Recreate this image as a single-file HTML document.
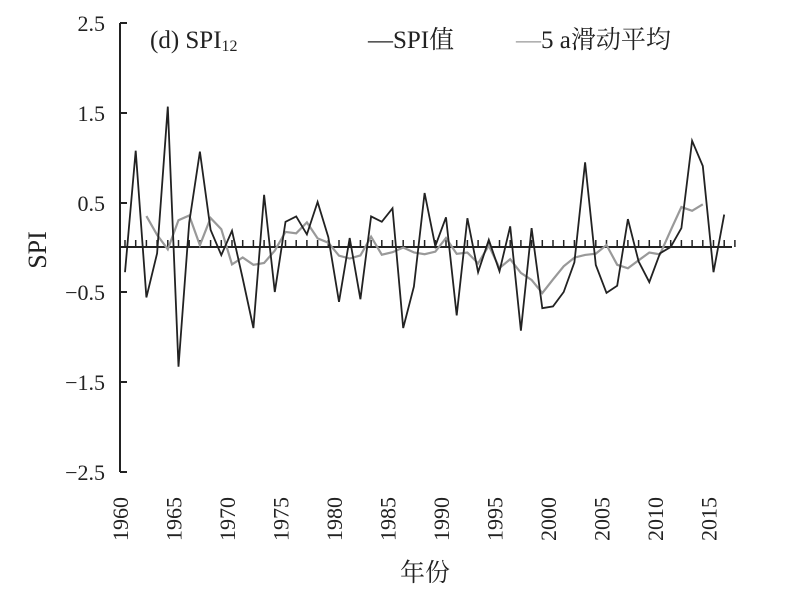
<!DOCTYPE html>
<html><head><meta charset="utf-8"><style>
body{margin:0;background:#fff}
svg text{font-family:"Liberation Serif","Noto Serif CJK SC",serif;fill:#222}
</style></head><body>
<svg width="798" height="600" xmlns="http://www.w3.org/2000/svg" id="s">
<g stroke="#222" stroke-width="2" fill="none">
<line x1="120" y1="23" x2="120" y2="472"/>
<line x1="120" y1="247" x2="732" y2="247"/>
<line x1="120" y1="23" x2="127" y2="23"/>
<line x1="120" y1="113" x2="127" y2="113"/>
<line x1="120" y1="203" x2="127" y2="203"/>
<line x1="120" y1="292" x2="127" y2="292"/>
<line x1="120" y1="382" x2="127" y2="382"/>
<line x1="120" y1="472" x2="127" y2="472"/>
</g>
<g id="ticks" stroke="#222" stroke-width="1.5"></g>
<g font-size="22" text-anchor="end">
<text x="105" y="31">2.5</text>
<text x="105" y="121">1.5</text>
<text x="105" y="211">0.5</text>
<text x="105" y="300">−0.5</text>
<text x="105" y="390">−1.5</text>
<text x="105" y="480">−2.5</text>
</g>
<g id="xl" font-size="22"></g>
<text x="0" y="0" font-size="26" transform="translate(46,250) rotate(-90)" text-anchor="middle">SPI</text>
<text x="425" y="581" font-size="25" text-anchor="middle">年份</text>
<text x="150" y="48" font-size="25">(d) SPI<tspan font-size="16" dy="3">12</tspan></text>
<text x="368" y="48" font-size="25">—SPI值</text>
<text x="516" y="48" font-size="25"><tspan fill="#999">—</tspan>5 a滑动平均</text>
<polyline id="ma" fill="none" stroke="#999" stroke-width="2.2"/>
<polyline id="raw" fill="none" stroke="#222" stroke-width="1.8"/>
</svg>
<script>
var d=[-0.28,1.07,-0.56,-0.07,1.56,-1.33,0.27,1.06,0.19,-0.09,0.18,-0.35,-0.9,0.58,-0.5,0.28,0.34,0.14,0.5,0.11,-0.61,0.1,-0.58,0.34,0.28,0.43,-0.9,-0.44,0.6,0.01,0.33,-0.76,0.32,-0.28,0.08,-0.27,0.23,-0.93,0.21,-0.68,-0.66,-0.5,-0.17,0.94,-0.2,-0.51,-0.43,0.31,-0.16,-0.39,-0.07,0.0,0.21,1.18,0.9,-0.28,0.36];
function X(i){return 125+10.7*i}function Y(v){return 247-90*v}
var r=[],m=[];for(var i=0;i<d.length;i++){r.push(X(i)+","+Y(d[i]));if(i>=2&&i<=d.length-3){var s=0;for(var k=-2;k<=2;k++)s+=d[i+k];m.push(X(i)+","+Y(s/5));}}
document.getElementById("raw").setAttribute("points",r.join(" "));
document.getElementById("ma").setAttribute("points",m.join(" "));
var t="";for(var i=0;i<=57;i++){t+='<line x1="'+X(i)+'" y1="247" x2="'+X(i)+'" y2="240"/>';}
document.getElementById("ticks").innerHTML=t;
var l="";for(var y=1960;y<=2015;y+=5){var x=X(y-1960)+3;l+='<text transform="translate('+x+',541) rotate(-90)">'+y+'</text>';}
document.getElementById("xl").innerHTML=l;
</script>
</body></html>
